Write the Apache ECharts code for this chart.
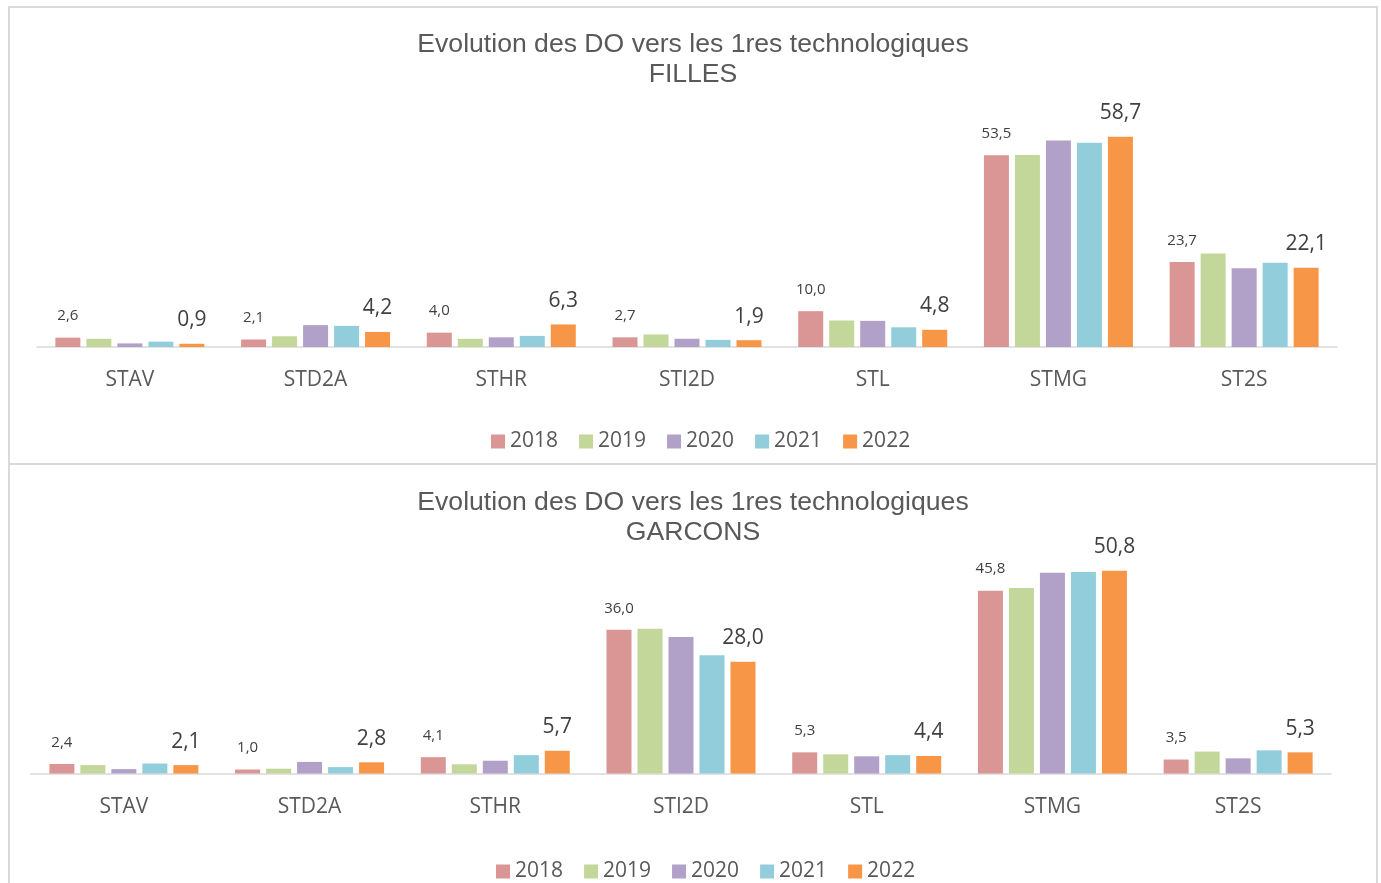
<!DOCTYPE html>
<html>
<head>
<meta charset="utf-8">
<script src="https://cdn.jsdelivr.net/npm/echarts@6/dist/echarts.min.js"></script>
<style>
  html, body { margin: 0; padding: 0; background: #fff; }
  #main { width: 1381px; height: 883px; }
</style>
</head>
<body>
<div id="main"></div>
<script>
// categories and years
var categories = ['STAV', 'STD2A', 'STHR', 'STI2D', 'STL', 'STMG', 'ST2S'];
var years = ['2018', '2019', '2020', '2021', '2022'];
var colors = ['#DA9694', '#C4D79B', '#B1A0C7', '#92CDDC', '#F79646'];

// FILLES
var filles2018 = [2.6, 2.1, 4.0, 2.7, 10.0, 53.5, 23.7];
var filles2019 = [2.3, 3.0, 2.3, 3.5, 7.4, 53.6, 26.1];
var filles2020 = [1.0, 6.1, 2.7, 2.3, 7.3, 57.6, 22.0];
var filles2021 = [1.5, 5.9, 3.1, 2.0, 5.5, 57.0, 23.5];
var filles2022 = [0.9, 4.2, 6.3, 1.9, 4.8, 58.7, 22.1];

// GARCONS
var garcons2018 = [2.4, 1.0, 4.1, 36.0, 5.3, 45.8, 3.5];
var garcons2019 = [2.1, 1.2, 2.3, 36.3, 4.8, 46.5, 5.5];
var garcons2020 = [1.1, 2.9, 3.2, 34.2, 4.3, 50.3, 3.8];
var garcons2021 = [2.5, 1.6, 4.6, 29.6, 4.6, 50.5, 5.8];
var garcons2022 = [2.1, 2.8, 5.7, 28.0, 4.4, 50.8, 5.3];

var fillesData = [filles2018, filles2019, filles2020, filles2021, filles2022];
var garconsData = [garcons2018, garcons2019, garcons2020, garcons2021, garcons2022];

var txtFont = 'Open Sans';
var fmt = function (p) { return p.value.toFixed(1).replace('.', ','); };

function makeSeries(data, idx) {
    return data.map(function (vals, i) {
        var showLbl = (i === 0 || i === 4);
        return {
            name: years[i],
            type: 'bar',
            xAxisIndex: idx,
            yAxisIndex: idx,
            data: vals,
            barWidth: 25,
            barGap: '24%',
            itemStyle: { color: colors[i] },
            label: {
                show: showLbl,
                position: 'top',
                distance: i === 0 ? 14 : 13,
                fontFamily: txtFont,
                fontSize: i === 0 ? 15 : 21,
                color: '#404040',
                formatter: fmt
            }
        };
    });
}

function xAxisCfg(idx) {
    return {
        type: 'category',
        gridIndex: idx,
        data: categories,
        axisLine: { lineStyle: { color: '#d9d9d9', width: 1.5 } },
        axisTick: { show: false },
        axisLabel: { fontFamily: txtFont, fontSize: 21, color: '#595959', margin: 23 }
    };
}

var titleStyle = { fontFamily: 'Liberation Sans', fontSize: 26.6, lineHeight: 30, fontWeight: 'normal', color: '#595959' };
var legendStyle = { fontFamily: txtFont, fontSize: 21, color: '#595959' };

var myChart = echarts.init(document.getElementById('main'));
var option = {
    backgroundColor: '#fff',
    animation: false,
    title: [{
        text: 'Evolution des DO vers les 1res technologiques\nFILLES',
        left: 693, top: 30, textAlign: 'center', padding: 0,
        textStyle: titleStyle
    }, {
        text: 'Evolution des DO vers les 1res technologiques\nGARCONS',
        left: 693, top: 488, textAlign: 'center', padding: 0,
        textStyle: titleStyle
    }],
    legend: [{
        data: years, left: 491, top: 431, padding: 0,
        icon: 'rect', itemWidth: 14, itemHeight: 14, itemGap: 21,
        textStyle: legendStyle
    }, {
        data: years, left: 496, top: 861, padding: 0,
        icon: 'rect', itemWidth: 14, itemHeight: 14, itemGap: 21,
        textStyle: legendStyle
    }],
    grid: [
        { left: 37, right: 44, top: 132, height: 215 },
        { left: 31, right: 50, top: 554, height: 219.5 }
    ],
    xAxis: [xAxisCfg(0), xAxisCfg(1)],
    yAxis: [
        { type: 'value', gridIndex: 0, min: 0, max: 60, show: false, splitLine: { show: false } },
        { type: 'value', gridIndex: 1, min: 0, max: 55, show: false, splitLine: { show: false } }
    ],
    graphic: [
        { type: 'rect', shape: { x: 9, y: 7, width: 1368, height: 457 }, style: { fill: 'none', stroke: '#d9d9d9', lineWidth: 2 } },
        { type: 'rect', shape: { x: 9, y: 464, width: 1368, height: 440 }, style: { fill: 'none', stroke: '#d9d9d9', lineWidth: 2 } }
    ],
    series: makeSeries(fillesData, 0).concat(makeSeries(garconsData, 1))
};
myChart.setOption(option);
</script>
</body>
</html>
